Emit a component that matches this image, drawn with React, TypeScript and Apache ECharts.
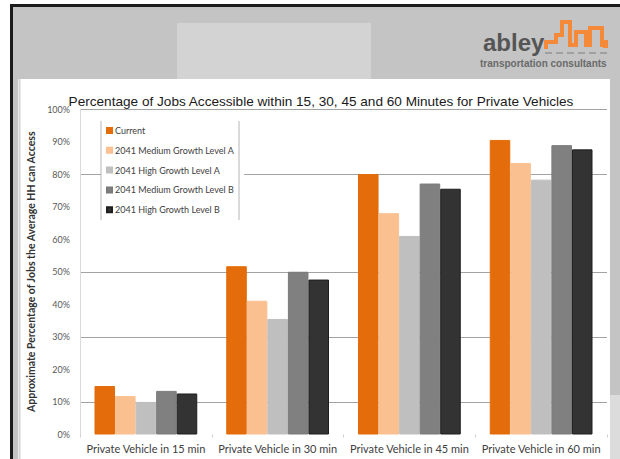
import React, { useEffect, useRef } from "react";
import * as echarts from "echarts";

const categories = [
  "Private Vehicle in 15 min",
  "Private Vehicle in 30 min",
  "Private Vehicle in 45 min",
  "Private Vehicle in 60 min",
];
const seriesNames = [
  "Current",
  "2041 Medium Growth Level A",
  "2041 High Growth Level A",
  "2041 Medium Growth Level B",
  "2041 High Growth Level B",
];
const current = [14.9, 51.7, 80, 90.5];
const mediumA = [11.8, 41.1, 68, 83.4];
const highA = [10, 35.5, 61, 78.3];
const mediumB = [13.4, 50, 77.1, 88.9];
const highB = [12.6, 47.6, 75.5, 87.6];
const seriesValues = [current, mediumA, highA, mediumB, highB];
const seriesColors = ["#e46c0a", "#fac090", "#bfbfbf", "#808080", "#333333"];
const seriesBorders = ["#e46c0a", "#fac090", "#bfbfbf", "#7a7a7a", "#1e1e1e"];
// gridlines visible in the reference (others missing)
const gridlineValues = [10, 30, 50, 80, 100];
const yTicks = [0, 10, 20, 30, 40, 50, 60, 70, 80, 90, 100];

export default function App() {
  const ref = useRef<HTMLDivElement>(null);
  useEffect(() => {
    document.body.style.margin = "0";
    const chart = echarts.init(ref.current!, null, { renderer: "svg" });
    const splitColors = yTicks.map((t) =>
      gridlineValues.includes(t) ? "#a3a3a3" : "rgba(0,0,0,0)"
    );
    const skyline = [
      [546, 49], [546, 42], [556, 42], [556, 35], [562, 35], [562, 22],
      [570, 22], [570, 45], [576, 45], [576, 32], [586, 32], [586, 45],
      [590, 45], [590, 28], [602, 28], [602, 45], [605, 45],
    ];
    chart.setOption({
      animation: false,
      backgroundColor: "#ffffff",
      title: {
        text: "Percentage of Jobs Accessible within 15, 30, 45 and 60 Minutes for Private Vehicles",
        left: 316,
        top: 89,
        textAlign: "center",
        textStyle: {
          fontFamily: "Liberation Sans",
          fontSize: 13.6,
          fontWeight: "normal",
          color: "#1a1a1a",
        },
      },
      graphic: [
        { type: "rect", z: -10, shape: { x: 10, y: 4, width: 610, height: 455 }, style: { fill: "#1c1c1c" } },
        { type: "rect", z: -9, shape: { x: 13, y: 7, width: 607, height: 452 }, style: { fill: "#c4c4c4" } },
        { type: "rect", z: -8, shape: { x: 177, y: 23, width: 194, height: 57 }, style: { fill: "#d3d3d3" } },
        { type: "rect", z: -8, shape: { x: 610, y: 395, width: 10, height: 64 }, style: { fill: "#dcdcdc" } },
        { type: "rect", z: -7, shape: { x: 18, y: 79, width: 592, height: 380 }, style: { fill: "#ffffff" } },
        { type: "line", z: -6, shape: { x1: 19.5, y1: 79, x2: 19.5, y2: 459 }, style: { stroke: "#d6d6d6", lineWidth: 2 } },
        // logo
        {
          type: "text", z: 10, x: 483, y: 30,
          style: { text: "abley", font: "bold 24px 'Liberation Sans Narrow', 'Liberation Sans'", fill: "#555555" },
        },
        {
          type: "polyline", z: 10,
          shape: { points: skyline },
          style: { stroke: "#f5893a", lineWidth: 4, fill: null },
        },
        { type: "rect", z: 10, shape: { x: 603, y: 40, width: 5, height: 8 }, style: { fill: "#f5893a" } },
        {
          type: "line", z: 10, shape: { x1: 545, y1: 53, x2: 609, y2: 53 },
          style: { stroke: "#a0a0a0", lineWidth: 2, lineDash: [7, 4] },
        },
        {
          type: "text", z: 10, x: 480, y: 58,
          style: { text: "transportation consultants", font: "bold 10px 'Liberation Sans Narrow', 'Liberation Sans'", fill: "#6a6a6a" },
        },
        // legend side edges
        { type: "line", z: 20, shape: { x1: 101, y1: 121, x2: 101, y2: 220 }, style: { stroke: "#b5b5b5", lineWidth: 1 } },
        { type: "line", z: 20, shape: { x1: 239, y1: 121, x2: 239, y2: 220 }, style: { stroke: "#b5b5b5", lineWidth: 1 } },
      ],
      legend: {
        orient: "vertical",
        left: 101,
        top: 121,
        padding: [5, 10, 6, 5],
        backgroundColor: "#ffffff",
        itemWidth: 5,
        itemHeight: 5,
        itemGap: 10.8,
        icon: "rect",
        data: seriesNames,
        textStyle: { fontFamily: "Lato", fontSize: 9, color: "#404040", padding: [0, 0, 0, -2] },
      },
      grid: {
        left: 80,
        right: 13,
        top: 109,
        bottom: 24.5,
        outerBoundsMode: "none",
        containLabel: false,
      },
      xAxis: {
        type: "category",
        data: categories,
        axisLine: { show: false },
        axisTick: { show: true, length: 3, lineStyle: { color: "#d0d0d0" } },
        axisLabel: { interval: 0, fontFamily: "Lato", fontSize: 11, color: "#404040", margin: 8 },
      },
      yAxis: {
        type: "value",
        min: 0,
        max: 100,
        interval: 10,
        name: "Approximate Percentage of Jobs the Average HH can Access",
        nameLocation: "middle",
        nameRotate: 90,
        nameGap: 31,
        nameTextStyle: { fontFamily: "Lato", fontWeight: "bold", fontSize: 10.5, color: "#333333" },
        axisLine: { show: true, lineStyle: { color: "#d9d9d9" } },
        axisTick: { show: false },
        axisLabel: { formatter: "{value}%", fontFamily: "Lato", fontSize: 9, color: "#595959", margin: 10 },
        splitLine: { show: true, lineStyle: { color: splitColors, width: 1 } },
      },
      series: seriesNames.map((name, i) => ({
        name,
        type: "bar",
        data: seriesValues[i],
        barGap: "0%",
        barCategoryGap: "22%",
        itemStyle: { color: seriesColors[i], borderColor: seriesBorders[i], borderWidth: 1 },
      })),
    });
    return () => chart.dispose();
  }, []);
  return (
    <div
      ref={ref}
      style={{ position: "fixed", left: 0, top: 0, width: 620, height: 459 }}
    />
  );
}
